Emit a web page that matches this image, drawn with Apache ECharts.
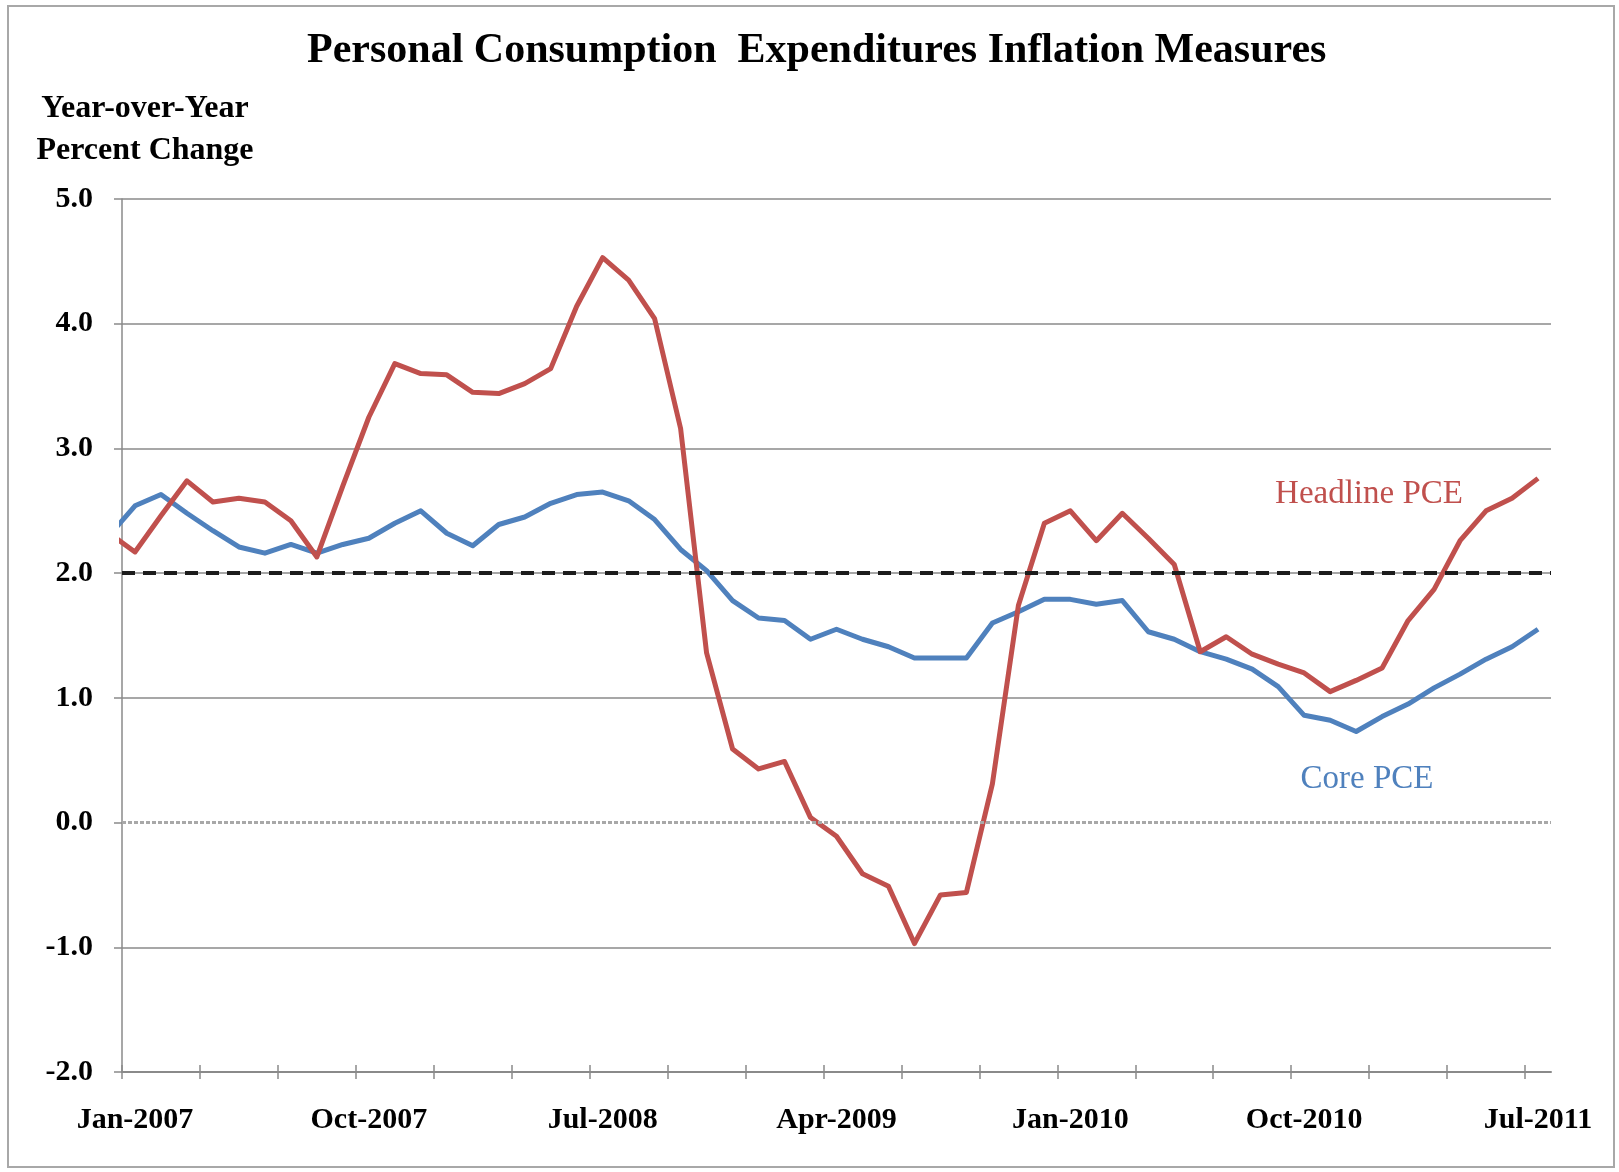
<!DOCTYPE html>
<html><head><meta charset="utf-8">
<script src="https://cdn.jsdelivr.net/npm/echarts@6/dist/echarts.min.js"></script>
<style>html,body{margin:0;padding:0;background:#fff}#chart{width:1619px;height:1172px}</style>
</head><body><div id="chart"></div>
<script>
// ---- data (monthly, year-over-year % change; Dec-2006 partly clipped at the left edge) ----
const months = [
  'Dec-2006',
  'Jan-2007','Feb-2007','Mar-2007','Apr-2007','May-2007','Jun-2007','Jul-2007','Aug-2007','Sep-2007','Oct-2007','Nov-2007','Dec-2007',
  'Jan-2008','Feb-2008','Mar-2008','Apr-2008','May-2008','Jun-2008','Jul-2008','Aug-2008','Sep-2008','Oct-2008','Nov-2008','Dec-2008',
  'Jan-2009','Feb-2009','Mar-2009','Apr-2009','May-2009','Jun-2009','Jul-2009','Aug-2009','Sep-2009','Oct-2009','Nov-2009','Dec-2009',
  'Jan-2010','Feb-2010','Mar-2010','Apr-2010','May-2010','Jun-2010','Jul-2010','Aug-2010','Sep-2010','Oct-2010','Nov-2010','Dec-2010',
  'Jan-2011','Feb-2011','Mar-2011','Apr-2011','May-2011','Jun-2011','Jul-2011'
];
const tickLabels = ['Jan-2007','Oct-2007','Jul-2008','Apr-2009','Jan-2010','Oct-2010','Jul-2011'];
const headline = [
  2.32,
  2.17, 2.46, 2.74, 2.57, 2.60, 2.57, 2.42, 2.13, 2.70, 3.25, 3.68, 3.60,
  3.59, 3.45, 3.44, 3.52, 3.64, 4.14, 4.53, 4.35, 4.04, 3.16, 1.36, 0.59,
  0.43, 0.49, 0.04, -0.11, -0.41, -0.51, -0.97, -0.58, -0.56, 0.31, 1.74, 2.40,
  2.50, 2.26, 2.48, 2.28, 2.07, 1.37, 1.49, 1.35, 1.27, 1.20, 1.05, 1.14,
  1.24, 1.62, 1.87, 2.26, 2.50, 2.60, 2.76
];
const core = [
  2.30,
  2.54, 2.63, 2.48, 2.34, 2.21, 2.16, 2.23, 2.16, 2.23, 2.28, 2.40, 2.50,
  2.32, 2.22, 2.39, 2.45, 2.56, 2.63, 2.65, 2.58, 2.43, 2.19, 2.02, 1.78,
  1.64, 1.62, 1.47, 1.55, 1.47, 1.41, 1.32, 1.32, 1.32, 1.60, 1.69, 1.79,
  1.79, 1.75, 1.78, 1.53, 1.47, 1.37, 1.31, 1.23, 1.09, 0.86, 0.82, 0.73,
  0.85, 0.95, 1.08, 1.19, 1.31, 1.41, 1.55
];
const seriesNames = ['Headline PCE', 'Core PCE'];
const targetLevel = 2.0;
const zeroLevel = 0.0;
const titleText = 'Personal Consumption  Expenditures Inflation Measures';
const yNameLines = ['Year-over-Year', 'Percent Change'];

// ---- build ----
const FONT = "'Liberation Serif','Times New Roman',Times,serif";
const RED = '#c0504d', BLUE = '#4f81bd', GRID = '#8a8a8a';
// axis unit = months since 1 Jan 2007; each observation sits mid-month
const xOf = i => i - 0.5;
const axisMax = months.length - 1;              // 1 Aug 2011
const tickVals = [];
months.forEach((m, i) => { if (i >= 1 && (i - 1) % 3 === 0) tickVals.push(i - 1); });
const labelVals = tickLabels.map(l => xOf(months.indexOf(l)));
const pairs = arr => arr.map((v, i) => [xOf(i), v]);

const chart = echarts.init(document.getElementById('chart'), null, {renderer: 'canvas'});
const gridBox = {left: 122, right: 68, top: 199, bottom: 100, containLabel: false};
chart.setOption({
  backgroundColor: '#fff',
  animation: false,
  title: {
    text: titleText, left: 307, top: 30, padding: 0,
    textStyle: {fontFamily: FONT, fontSize: 42, fontWeight: 'bold', color: '#000'}
  },
  grid: [Object.assign({}, gridBox), Object.assign({}, gridBox)],
  xAxis: [{
    type: 'value', gridIndex: 0, min: 0, max: axisMax, interval: 3, position: 'bottom',
    axisLine: {show: true, onZero: false, lineStyle: {color: GRID, width: 2}},
    axisTick: {show: true, inside: false, length: 7, customValues: tickVals, lineStyle: {color: GRID, width: 1.5}},
    axisLabel: {show: true, customValues: labelVals, margin: 33,
      formatter: v => months[Math.round(v + 0.5)] || '',
      fontFamily: FONT, fontSize: 30, fontWeight: 'bold', color: '#000'},
    splitLine: {show: false}
  }, {
    type: 'value', gridIndex: 1, min: 0, max: axisMax, interval: 3, position: 'bottom',
    axisLine: {show: false, onZero: false},
    axisTick: {show: true, inside: true, length: 7, customValues: tickVals, lineStyle: {color: GRID, width: 1.5}},
    axisLabel: {show: false},
    splitLine: {show: false}
  }],
  yAxis: [{
    type: 'value', gridIndex: 0, min: -2, max: 5, interval: 1,
    axisLine: {show: true, onZero: false, lineStyle: {color: GRID, width: 1.5}},
    axisTick: {show: true, inside: false, length: 8, lineStyle: {color: GRID, width: 1.5}},
    axisLabel: {margin: 29, formatter: v => v.toFixed(1),
      fontFamily: FONT, fontSize: 30, fontWeight: 'bold', color: '#000'},
    splitLine: {show: true, lineStyle: {width: 1.5,
      color: [GRID, GRID, 'rgba(0,0,0,0)', GRID, GRID, GRID, GRID, GRID]}}
  }, {
    type: 'value', gridIndex: 1, min: -2, max: 5, interval: 1, show: false
  }],
  series: [{
    name: seriesNames[1], type: 'line', xAxisIndex: 0, yAxisIndex: 0,
    data: pairs(core), showSymbol: false, clip: true, z: 3,
    lineStyle: {color: BLUE, width: 5, join: 'round'}, itemStyle: {color: BLUE}
  }, {
    name: seriesNames[0], type: 'line', xAxisIndex: 0, yAxisIndex: 0,
    data: pairs(headline), showSymbol: false, clip: true, z: 4,
    lineStyle: {color: RED, width: 5, join: 'round'}, itemStyle: {color: RED}
  }, {
    name: 'reference', type: 'line', xAxisIndex: 0, yAxisIndex: 0, data: [], z: 6,
    markLine: {
      silent: true, symbol: ['none', 'none'], label: {show: false},
      data: [
        {yAxis: zeroLevel, lineStyle: {color: '#a8a8a8', width: 3, type: [4, 2]}},
        {yAxis: targetLevel, lineStyle: {color: '#1c1c1c', width: 4, type: [13, 8]}}
      ]
    }
  }],
  graphic: [
    {type: 'rect', z: 0, shape: {x: 8, y: 6, width: 1606, height: 1161},
      style: {fill: 'none', stroke: '#a8a8a8', lineWidth: 2}},
    {type: 'text', x: 145, y: 109, style: {text: yNameLines[0], align: 'center', verticalAlign: 'middle',
      fontFamily: FONT, fontSize: 32, fontWeight: 'bold', fill: '#000'}},
    {type: 'text', x: 145, y: 151, style: {text: yNameLines[1], align: 'center', verticalAlign: 'middle',
      fontFamily: FONT, fontSize: 32, fontWeight: 'bold', fill: '#000'}},
    {type: 'text', x: 1369, y: 494, style: {text: seriesNames[0], align: 'center', verticalAlign: 'middle',
      fontFamily: FONT, fontSize: 33, fill: RED}},
    {type: 'text', x: 1367, y: 779, style: {text: seriesNames[1], align: 'center', verticalAlign: 'middle',
      fontFamily: FONT, fontSize: 33, fill: BLUE}}
  ]
});
</script></body></html>
